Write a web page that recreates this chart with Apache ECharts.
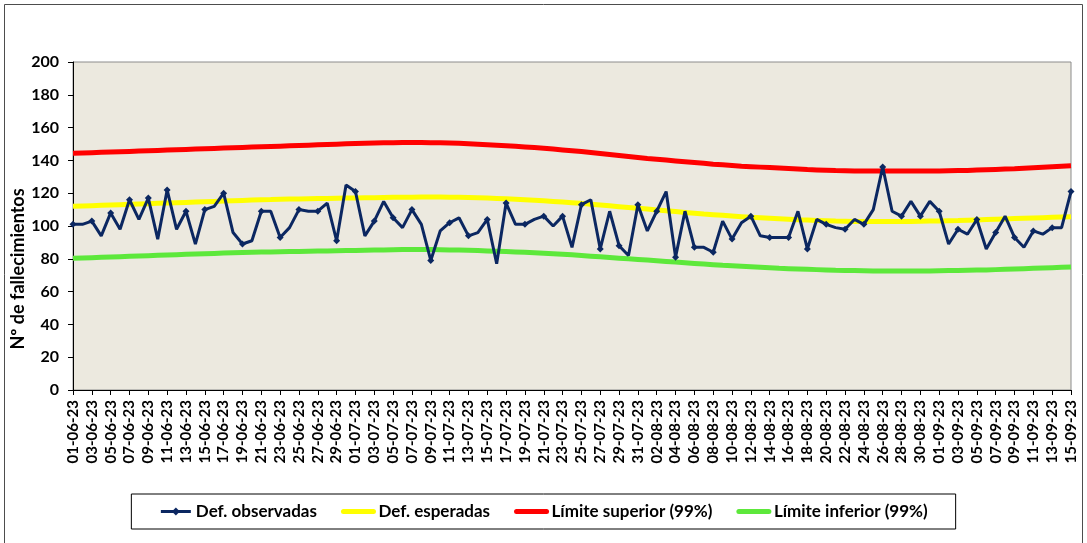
<!DOCTYPE html>
<html>
<head>
<meta charset="utf-8">
<script src="https://cdn.jsdelivr.net/npm/echarts@6/dist/echarts.min.js"></script>
<style>
html,body{margin:0;padding:0;background:#fff;}
#c{width:1087px;height:543px;}
</style>
</head>
<body>
<div id="c"></div>
<script>
// Category construction: day labels 01-06-23 .. 15-09-23
const monthSpec = [['06', 30], ['07', 31], ['08', 31], ['09', 15]];
const dates = [];
monthSpec.forEach(function (m) {
  for (let d = 1; d <= m[1]; d++) dates.push((d < 10 ? '0' : '') + d + '-' + m[0] + '-23');
});

const observed = [
  101,101,103,94,108,98,116,104,117,92,
  122,98,109,89,110,112,120,96,89,91,
  109,109,93,99,110,109,109,114,91,125,
  121,94,103,115,105,99,110,101,79,97,
  102,105,94,96,104,77,114,101,101,104,
  106,100,106,87,113,116,86,109,88,82,
  113,97,109,121,81,109,87,87,84,103,
  92,102,106,94,93,93,93,109,86,104,
  101,99,98,104,101,110,136,109,106,115,
  106,115,109,89,98,95,104,86,96,106,
  93,87,97,95,99,99,121
];

const expected = [
  112.0,112.2,112.4,112.6,112.8,113.0,113.2,113.4,113.6,113.8,
  114.0,114.2,114.4,114.6,114.8,115.0,115.2,115.4,115.6,115.8,
  116.0,116.1,116.3,116.4,116.5,116.6,116.7,116.8,116.9,117.0,
  117.1,117.2,117.3,117.4,117.5,117.6,117.6,117.7,117.7,117.7,
  117.6,117.5,117.4,117.2,117.0,116.8,116.6,116.3,116.0,115.7,
  115.4,115.0,114.6,114.2,113.8,113.3,112.8,112.3,111.8,111.3,
  110.8,110.3,109.8,109.3,108.8,108.3,107.8,107.3,106.9,106.5,
  106.1,105.7,105.3,105.0,104.7,104.4,104.1,103.8,103.6,103.4,
  103.2,103.0,102.9,102.8,102.7,102.7,102.7,102.7,102.7,102.8,
  102.9,103.0,103.1,103.2,103.3,103.5,103.7,103.9,104.1,104.3,
  104.5,104.7,104.9,105.1,105.3,105.5,105.7
];

const upper = [
  144.3,144.5,144.7,144.9,145.1,145.3,145.5,145.7,145.9,146.1,
  146.3,146.5,146.7,146.9,147.1,147.3,147.5,147.7,147.9,148.1,
  148.3,148.5,148.7,148.9,149.1,149.3,149.5,149.7,149.9,150.1,
  150.3,150.5,150.6,150.7,150.8,150.9,150.9,150.9,150.8,150.7,
  150.6,150.4,150.2,149.9,149.6,149.3,149.0,148.6,148.2,147.8,
  147.4,146.9,146.4,145.9,145.4,144.8,144.2,143.6,143.0,142.4,
  141.8,141.2,140.7,140.2,139.7,139.2,138.7,138.2,137.7,137.3,
  136.9,136.5,136.2,135.9,135.6,135.3,135.0,134.7,134.4,134.2,
  134.0,133.8,133.7,133.6,133.5,133.5,133.5,133.5,133.5,133.5,
  133.5,133.5,133.6,133.7,133.8,133.9,134.1,134.3,134.5,134.7,
  134.9,135.2,135.5,135.8,136.1,136.4,136.7
];

const lower = [
  80.3,80.5,80.7,80.9,81.1,81.3,81.5,81.7,81.9,82.1,
  82.3,82.5,82.7,82.9,83.1,83.3,83.5,83.7,83.9,84.0,
  84.1,84.2,84.3,84.4,84.5,84.6,84.7,84.8,84.9,85.0,
  85.1,85.2,85.3,85.4,85.5,85.6,85.6,85.6,85.6,85.5,
  85.4,85.3,85.2,85.0,84.8,84.6,84.4,84.2,84.0,83.7,
  83.4,83.1,82.8,82.4,82.0,81.6,81.2,80.8,80.4,80.0,
  79.6,79.2,78.8,78.4,78.0,77.6,77.2,76.8,76.4,76.0,
  75.7,75.4,75.1,74.8,74.5,74.2,74.0,73.8,73.6,73.4,
  73.2,73.0,72.9,72.8,72.7,72.6,72.6,72.6,72.6,72.6,
  72.6,72.6,72.7,72.8,72.9,73.0,73.1,73.2,73.4,73.6,
  73.8,74.0,74.2,74.4,74.6,74.8,75.0
];

const seriesNames = ['Def. observadas', 'Def. esperadas', 'Límite superior (99%)', 'Límite inferior (99%)'];
const yAxisName = 'Nº de fallecimientos';

const NAVY = '#0B2761', YEL = '#FFFF00', RED = '#FF0000', GRN = '#5DE83B';
const FONT = 'Lato, "Open Sans", "DejaVu Sans", sans-serif';
const chart = echarts.init(document.getElementById('c'), null, {renderer: 'canvas'});

function band(name, data, color) {
  return {
    name: name, type: 'line', data: data, symbol: 'none', smooth: false,
    lineStyle: {color: color, width: 5}, itemStyle: {color: color},
    emphasis: {disabled: true}, z: 2
  };
}
function bandLegend(name, color) {
  return {name: name, itemStyle: {opacity: 0}, lineStyle: {color: color, width: 5, cap: 'round'}};
}

chart.setOption({
  animation: false,
  backgroundColor: '#ffffff',
  textStyle: {fontFamily: FONT},
  graphic: [{
    type: 'rect', silent: true, z: -10,
    shape: {x: 4.5, y: 4.5, width: 1078, height: 560},
    style: {fill: 'none', stroke: '#4d4d4d', lineWidth: 1}
  }, {
    type: 'text', silent: true, x: 18, y: 269, rotation: Math.PI / 2,
    style: {
      text: yAxisName, fill: '#000', align: 'center', verticalAlign: 'middle',
      font: 'bold 18px ' + FONT
    }
  }],
  grid: {
    left: 73, right: 16, top: 62, bottom: 153,
    outerBoundsMode: 'none', containLabel: false,
    show: true, backgroundColor: '#ECE9DF', borderColor: '#8c8c8c', borderWidth: 1
  },
  legend: {
    data: [
      {name: seriesNames[0], lineStyle: {color: NAVY, width: 3}},
      bandLegend(seriesNames[1], YEL),
      bandLegend(seriesNames[2], RED),
      bandLegend(seriesNames[3], GRN)
    ],
    left: 'center', top: 494,
    padding: [9, 28, 9, 28],
    borderColor: '#000', borderWidth: 1,
    itemGap: 24, itemWidth: 30, itemHeight: 10,
    textStyle: {fontFamily: FONT, fontSize: 17, fontWeight: 'bold', color: '#000'}
  },
  xAxis: {
    type: 'category', data: dates, boundaryGap: false,
    axisLine: {lineStyle: {color: '#000', width: 1}},
    axisTick: {show: true, interval: 1, length: 5, lineStyle: {color: '#000'}},
    axisLabel: {interval: 1, rotate: 90, margin: 10, color: '#000', fontSize: 15, fontWeight: 'bold', fontFamily: FONT},
    splitLine: {show: false}
  },
  yAxis: {
    type: 'value', min: 0, max: 200, interval: 20,
    axisLine: {show: true, lineStyle: {color: '#000', width: 1}},
    axisTick: {show: true, length: 5, lineStyle: {color: '#000'}},
    axisLabel: {margin: 14, color: '#000', fontSize: 16, fontWeight: 'bold', fontFamily: FONT},
    splitLine: {show: false}
  },
  series: [
    {
      name: seriesNames[0], type: 'line', data: observed,
      symbol: 'diamond', symbolSize: 7, showSymbol: true,
      lineStyle: {color: NAVY, width: 3}, itemStyle: {color: NAVY},
      emphasis: {disabled: true}, z: 5
    },
    band(seriesNames[1], expected, YEL),
    band(seriesNames[2], upper, RED),
    band(seriesNames[3], lower, GRN)
  ]
});
</script>
</body>
</html>
